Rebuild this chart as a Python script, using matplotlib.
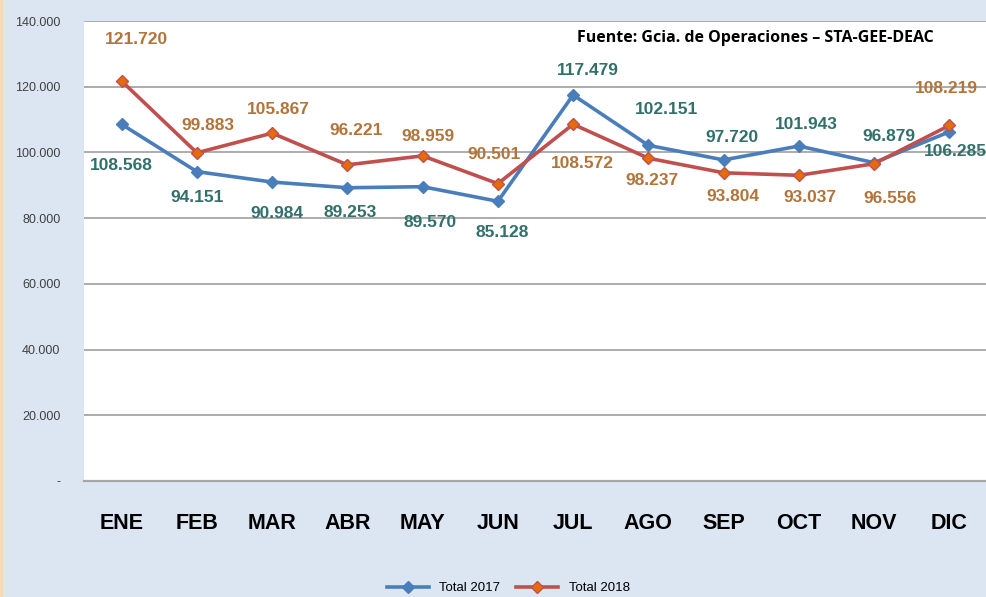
import matplotlib
matplotlib.use("Agg")
import matplotlib.pyplot as plt
from matplotlib.patches import Rectangle

meses = ["ENE", "FEB", "MAR", "ABR", "MAY", "JUN", "JUL", "AGO", "SEP", "OCT", "NOV", "DIC"]
total_2017 = [108568, 94151, 90984, 89253, 89570, 85128, 117479, 102151, 97720, 101943, 96879, 106285]
total_2018 = [121720, 99883, 105867, 96221, 98959, 90501, 108572, 98237, 93804, 93037, 96556, 108219]
y_ticks = [0, 20000, 40000, 60000, 80000, 100000, 120000, 140000]
y_labels = ["-", "20.000", "40.000", "60.000", "80.000", "100.000", "120.000", "140.000"]

# label offsets in pixels (dx, dy)
off_2017 = [(0, -41), (0, -26), (5, -31), (3, -25), (7, -36), (4, -31),
            (15, 24), (18, 36), (8, 22), (7, 22), (15, 26), (6, -20)]
off_2018 = [(15, 42), (11, 27), (6, 24), (9, 34), (5, 19), (-4, 29),
            (9, -39), (4, -22), (9, -24), (11, -22), (16, -35), (-3, 37)]

fam = ["Liberation Sans", "DejaVu Sans"]
plt.rcParams["font.family"] = fam

def fmt(v):
    return f"{v:,}".replace(",", ".")

fig = plt.figure(figsize=(9.87, 5.97), dpi=100)
fig.patch.set_facecolor("#dce6f2")
fig.patches.append(Rectangle((0, 0), 3 / 987, 1, transform=fig.transFigure,
                             facecolor="#fad7b8", edgecolor="none"))
ax = fig.add_axes([84 / 987, 116 / 597, 903 / 987, 460 / 597])
ax.set_facecolor("white")

x = list(range(len(meses)))
ax.plot(x, total_2017, color="#4a7ebb", lw=2.6, marker="D", ms=6.5,
        mfc="#4a7ebb", mec="#4a7ebb", label="Total 2017", zorder=3)
ax.plot(x, total_2018, color="#c0504d", lw=2.6, marker="D", ms=6.5,
        mfc="#e46c0a", mec="#c0504d", label="Total 2018", zorder=3)

for i, v in enumerate(total_2017):
    ax.annotate(fmt(v), (i, v), xytext=off_2017[i], textcoords="offset pixels",
                ha="center", va="center", fontsize=12.5, fontweight="bold",
                color="#31706b")
for i, v in enumerate(total_2018):
    ax.annotate(fmt(v), (i, v), xytext=off_2018[i], textcoords="offset pixels",
                ha="center", va="center", fontsize=12.5, fontweight="bold",
                color="#b3743a")

ax.set_xlim(-0.5, 11.5)
ax.set_ylim(0, 140000)
ax.set_yticks(y_ticks)
ax.set_yticklabels(y_labels, fontsize=9, color="#404040")
ax.set_xticks(x)
ax.set_xticklabels(meses, fontsize=15.5, fontweight="bold")
ax.tick_params(axis="y", length=0, pad=17)
ax.tick_params(axis="x", length=0, pad=23)
ax.grid(axis="y", color="#a6a6a6", lw=1.3)
ax.set_axisbelow(True)
for s in ["left", "right", "top"]:
    ax.spines[s].set_visible(False)
ax.spines["bottom"].set_color("#a6a6a6")
ax.spines["bottom"].set_linewidth(1.6)

ax.text(0.744, 0.963, "Fuente: Gcia. de Operaciones \u2013 STA-GEE-DEAC",
        transform=ax.transAxes, ha="center", va="center",
        fontsize=11.5, fontweight="bold", family=["Open Sans", "DejaVu Sans"])

fig.legend(loc="center", bbox_to_anchor=(0.515, 0.015), ncol=2, frameon=False,
           handlelength=3.2, columnspacing=1.2, prop={"size": 9.5})

fig.savefig("out.png", dpi=100, facecolor=fig.get_facecolor())
